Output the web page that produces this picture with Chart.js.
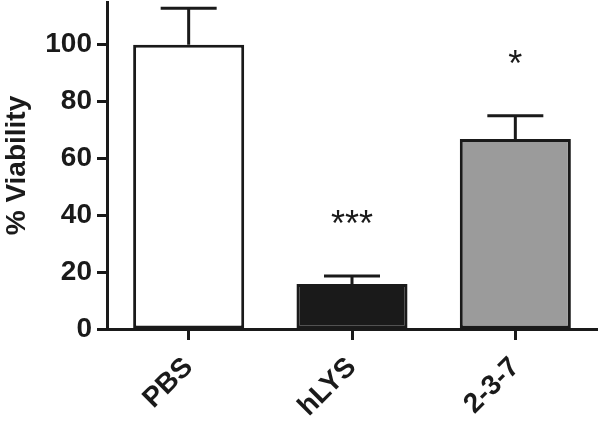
<!DOCTYPE html>
<html>
<head>
<meta charset="utf-8">
<script src="https://cdn.jsdelivr.net/npm/chart.js@4.4.1/dist/chart.umd.min.js"></script>
<style>
html,body{margin:0;padding:0;background:#fff;}
#wrap{width:600px;height:424px;position:relative;}
</style>
</head>
<body>
<div id="wrap"><canvas id="c" width="600" height="424"></canvas></div>
<script>
const categories = ['PBS', 'hLYS', '2-3-7'];
const viability = [100, 15.8, 66.8];
const errorUpper = [12.8, 2.8, 8.2];
const significance = ['', '***', '*'];
const yTicks = [0, 20, 40, 60, 80, 100];
const barColors = ['#ffffff', '#1a1a1a', '#9b9b9b'];

const errorBarPlugin = {
  id: 'errorBars',
  afterDatasetsDraw(chart) {
    const ctx = chart.ctx;
    const meta = chart.getDatasetMeta(0);
    const y = chart.scales.y;
    ctx.save();
    ctx.strokeStyle = '#1a1a1a';
    ctx.lineWidth = 3;
    ctx.lineCap = 'butt';
    meta.data.forEach((bar, i) => {
      const x = bar.x;
      const yTop = y.getPixelForValue(viability[i]);
      const yErr = y.getPixelForValue(viability[i] + errorUpper[i]);
      ctx.beginPath();
      ctx.moveTo(x, yTop);
      ctx.lineTo(x, yErr);
      ctx.moveTo(x - 28, yErr);
      ctx.lineTo(x + 28, yErr);
      ctx.stroke();
      if (significance[i]) {
        ctx.fillStyle = '#1a1a1a';
        ctx.font = '36px "Liberation Sans", Arial, sans-serif';
        ctx.textAlign = 'center';
        ctx.textBaseline = 'alphabetic';
        ctx.fillText(significance[i], x, yErr - 40);
      }
    });
    ctx.restore();
  }
};

const font = { family: '"Liberation Sans", Arial, sans-serif', size: 28, weight: 'bold' };

new Chart(document.getElementById('c'), {
  type: 'bar',
  data: {
    labels: categories,
    datasets: [{
      data: viability,
      backgroundColor: barColors,
      borderColor: '#1a1a1a',
      borderWidth: 3,
      borderSkipped: false,
      barPercentage: 0.68,
      categoryPercentage: 1.0
    }]
  },
  options: {
    responsive: false,
    animation: false,
    devicePixelRatio: 1,
    layout: { padding: { top: 2, right: 3, left: 0, bottom: 0 } },
    plugins: { legend: { display: false }, tooltip: { enabled: false } },
    scales: {
      x: {
        grid: { display: true, drawOnChartArea: false, offset: false, tickLength: 11, tickWidth: 3, tickColor: '#1a1a1a' },
        border: { display: true, width: 3, color: '#1a1a1a' },
        ticks: {
          color: '#1a1a1a',
          font: font,
          minRotation: 45, maxRotation: 45, padding: 11
        },
        afterFit(scale) { scale.height = 95; scale.paddingLeft = 0; scale.paddingRight = 0; }
      },
      y: {
        min: 0, max: 115,
        afterBuildTicks(scale) { scale.ticks = yTicks.map(v => ({ value: v })); },
        grid: { display: true, drawOnChartArea: false, tickLength: 10, tickWidth: 3, tickColor: '#1a1a1a' },
        border: { display: true, width: 3, color: '#1a1a1a' },
        ticks: {
          color: '#1a1a1a',
          font: font,
          padding: 5
        },
        title: {
          display: true,
          text: '% Viability',
          color: '#1a1a1a',
          font: font,
          padding: { top: 0, bottom: 0 }
        },
        afterFit(scale) { scale.width = 107; scale.paddingTop = 0; scale.paddingBottom = 0; }
      }
    }
  },
  plugins: [errorBarPlugin]
});
</script>
</body>
</html>
